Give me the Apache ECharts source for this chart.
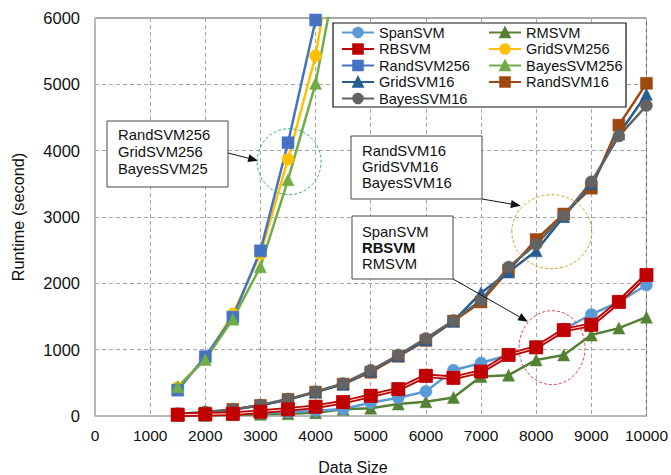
<!DOCTYPE html>
<html>
<head>
<meta charset="utf-8">
<script src="https://cdn.jsdelivr.net/npm/echarts@6/dist/echarts.min.js"></script>
<style>
html,body{margin:0;padding:0;background:#fff;}
#main{width:671px;height:475px;}
</style>
</head>
<body>
<div id="main"></div>
<script>
// ---- data ----
var dataSizes = [1500,2000,2500,3000,3500,4000,4500,5000,5500,6000,6500,7000,7500,8000,8500,9000,9500,10000];
var spanSVM     = [10,15,30,45,60,80,105,200,275,370,690,800,920,1040,1310,1530,1720,1975];
var rbSVM       = [20,25,35,65,100,140,210,305,405,605,575,670,920,1035,1295,1375,1720,2125];
var rmSVM       = [8,12,18,25,35,50,100,118,180,215,280,595,615,845,920,1220,1325,1490];
var randSVM256  = [390,895,1490,2490,4120,5970,8300,null,null,null,null,null,null,null,null,null,null,null];
var gridSVM256  = [430,870,1540,2440,3870,5430,7900,null,null,null,null,null,null,null,null,null,null,null];
var bayesSVM256 = [440,850,1460,2250,3560,5015,7200,null,null,null,null,null,null,null,null,null,null,null];
var gridSVM16   = [20,45,95,160,250,360,480,680,910,1150,1430,1855,2170,2490,3005,3500,4250,4850];
var bayesSVM16  = [35,60,100,165,255,365,490,690,920,1170,1440,1745,2245,2590,3020,3530,4220,4680];
var randSVM16   = [20,45,100,160,250,360,480,660,900,1140,1430,1720,2195,2660,3045,3435,4385,5015];
var xTicks = [0,1000,2000,3000,4000,5000,6000,7000,8000,9000,10000];
var yTicks = [0,1000,2000,3000,4000,5000,6000];

var FONT = "'Liberation Sans', Arial, sans-serif";

function pairs(vals){
  return dataSizes.map(function(x,i){ return [x, vals[i]]; });
}
function lineSeries(name, vals, color, symbol, size, extra){
  var s = {
    name: name, type: 'line', data: pairs(vals),
    symbol: symbol, symbolSize: size, showAllSymbol: true,
    lineStyle: {color: color, width: 2.5},
    itemStyle: {color: color, borderColor: color, borderWidth: 0.5},
    emphasis: {disabled: true}, animation: false, clip: true
  };
  if (extra) for (var k in extra) s[k] = extra[k];
  return s;
}
function plain(v){ return String(v); }

var chart = echarts.init(document.getElementById('main'), null, {renderer: 'svg'});

var legendCommon = {
  orient: 'vertical', top: 25, padding: 0, itemWidth: 32, itemHeight: 12, itemGap: 1.5,
  textStyle: {fontSize: 14.6, fontFamily: FONT, color: '#111'},
  selectedMode: false, z: 20
};

var option = {
  backgroundColor: '#fff',
  animation: false,
  grid: {left: 95, right: 24, top: 18, bottom: 59, show: true, borderColor: '#555', borderWidth: 1},
  xAxis: {
    type: 'value', min: xTicks[0], max: xTicks[xTicks.length-1], interval: 1000,
    axisLine: {show: true, lineStyle: {color: '#bfbfbf', width: 1.5}},
    axisTick: {show: false},
    axisLabel: {color: '#111', fontSize: 15.5, fontFamily: FONT, margin: 11, formatter: plain},
    splitLine: {show: true, lineStyle: {color: '#a6a6a6', type: [4,3], width: 1}}
  },
  yAxis: {
    type: 'value', min: yTicks[0], max: yTicks[yTicks.length-1], interval: 1000,
    name: 'Runtime (second)', nameLocation: 'middle', nameGap: 69,
    nameTextStyle: {color: '#111', fontSize: 16.3, fontFamily: FONT},
    axisLine: {show: true, lineStyle: {color: '#bfbfbf', width: 1.5}},
    axisTick: {show: false},
    axisLabel: {color: '#111', fontSize: 16.5, fontFamily: FONT, margin: 15, formatter: plain},
    splitLine: {show: true, lineStyle: {color: '#a6a6a6', type: [4,3], width: 1}}
  },
  legend: [
    Object.assign({}, legendCommon, {left: 341, data: ['SpanSVM','RBSVM','RandSVM256','GridSVM16','BayesSVM16']}),
    Object.assign({}, legendCommon, {left: 488, data: ['RMSVM','GridSVM256','BayesSVM256','RandSVM16']})
  ],
  series: [
    lineSeries('RandSVM16', randSVM16, '#9E480E', 'rect', 12),
    lineSeries('GridSVM16', gridSVM16, '#255E91', 'triangle', 12),
    lineSeries('BayesSVM16', bayesSVM16, '#636363', 'circle', 12),
    lineSeries('GridSVM256', gridSVM256, '#FFC000', 'circle', 12),
    lineSeries('RandSVM256', randSVM256, '#4472C4', 'rect', 12),
    lineSeries('BayesSVM256', bayesSVM256, '#70AD47', 'triangle', 12),
    lineSeries('RMSVM', rmSVM, '#548235', 'triangle', 12),
    lineSeries('SpanSVM', spanSVM, '#5B9BD5', 'circle', 12),
    lineSeries('RBSVM', rbSVM, '#C00000', 'rect', 13, {lineStyle: {color: '#C00000', width: 4.5}}),
    lineSeries('RBSVM-inner', rbSVM, '#ffffff', 'none', 0, {lineStyle: {color: '#ffdede', width: 1}}),
    lineSeries('RBSVM-marks', rbSVM, '#C00000', 'rect', 13, {lineStyle: {width: 0, opacity: 0}, z: 3})
  ]
};
chart.setOption(option);

function px(x, y){ return chart.convertToPixel({gridIndex: 0}, [x, y]); }

// annotation anchors in data coordinates
var c1 = px(3520, 3834), c2 = px(8284, 2779), c3 = px(8288, 1030);
var tStyle = {fontSize: 14.8, fontFamily: FONT, fill: '#111'};

function box(x, y, w, h){
  return {type: 'rect', shape: {x: x, y: y, width: w, height: h}, style: {fill: '#fff', stroke: '#444', lineWidth: 1}, z: 15};
}
function txt(x, y, s, bold){
  return {type: 'text', x: x, y: y, style: Object.assign({text: s, textVerticalAlign: 'middle', fontWeight: bold ? 'bold' : 'normal'}, tStyle), z: 16};
}
function arrow(x1, y1, x2, y2){
  var a = Math.atan2(y2 - y1, x2 - x1), L = 10, W = 4;
  var bx = x2 - L*Math.cos(a), by = y2 - L*Math.sin(a);
  return [
    {type: 'line', shape: {x1: x1, y1: y1, x2: bx, y2: by}, style: {stroke: '#111', lineWidth: 1}, z: 16},
    {type: 'polygon', shape: {points: [[x2, y2], [bx - W*Math.sin(a), by + W*Math.cos(a)], [bx + W*Math.sin(a), by - W*Math.cos(a)]]}, style: {fill: '#111'}, z: 16}
  ];
}
function ell(c, rx, ry, color){
  return {type: 'ellipse', shape: {cx: c[0], cy: c[1], rx: rx, ry: ry}, style: {fill: 'none', stroke: color, lineWidth: 1, lineDash: [3, 2]}, z: 16};
}

var g = [];
// legend frame
g.push({type: 'rect', shape: {x: 333, y: 23, width: 293, height: 84}, style: {fill: '#fff', stroke: '#111', lineWidth: 1.2}, z: 10});
// annotation 1
g.push(box(107, 121, 121, 66));
g.push(txt(118, 135, 'RandSVM256'), txt(118, 152, 'GridSVM256'), txt(118, 169, 'BayesSVM25'));
g = g.concat(arrow(228, 153, c1[0] - 31, c1[1] - 1));
g.push(ell(c1, 32, 33, '#3cb371'));
// annotation 2
g.push(box(351, 136, 131, 63));
g.push(txt(362, 151, 'RandSVM16'), txt(362, 167, 'GridSVM16'), txt(362, 183, 'BayesSVM16'));
g = g.concat(arrow(482, 199, c2[0] - 31, c2[1] - 26));
g.push(ell(c2, 40, 37, '#d4a62a'));
// annotation 3
g.push(box(352, 216, 101, 63));
g.push(txt(362, 232, 'SpanSVM'), txt(362, 248, 'RBSVM', true), txt(362, 264, 'RMSVM'));
g = g.concat(arrow(453, 279, c3[0] - 24, c3[1] - 26));
g.push(ell(c3, 33, 37, '#e8474f'));
// x axis name
g.push({type: 'text', x: 353, y: 467, style: Object.assign({text: 'Data Size', textAlign: 'center', textVerticalAlign: 'middle'}, tStyle, {fontSize: 16}), z: 16});

chart.setOption({graphic: g});
</script>
</body>
</html>
